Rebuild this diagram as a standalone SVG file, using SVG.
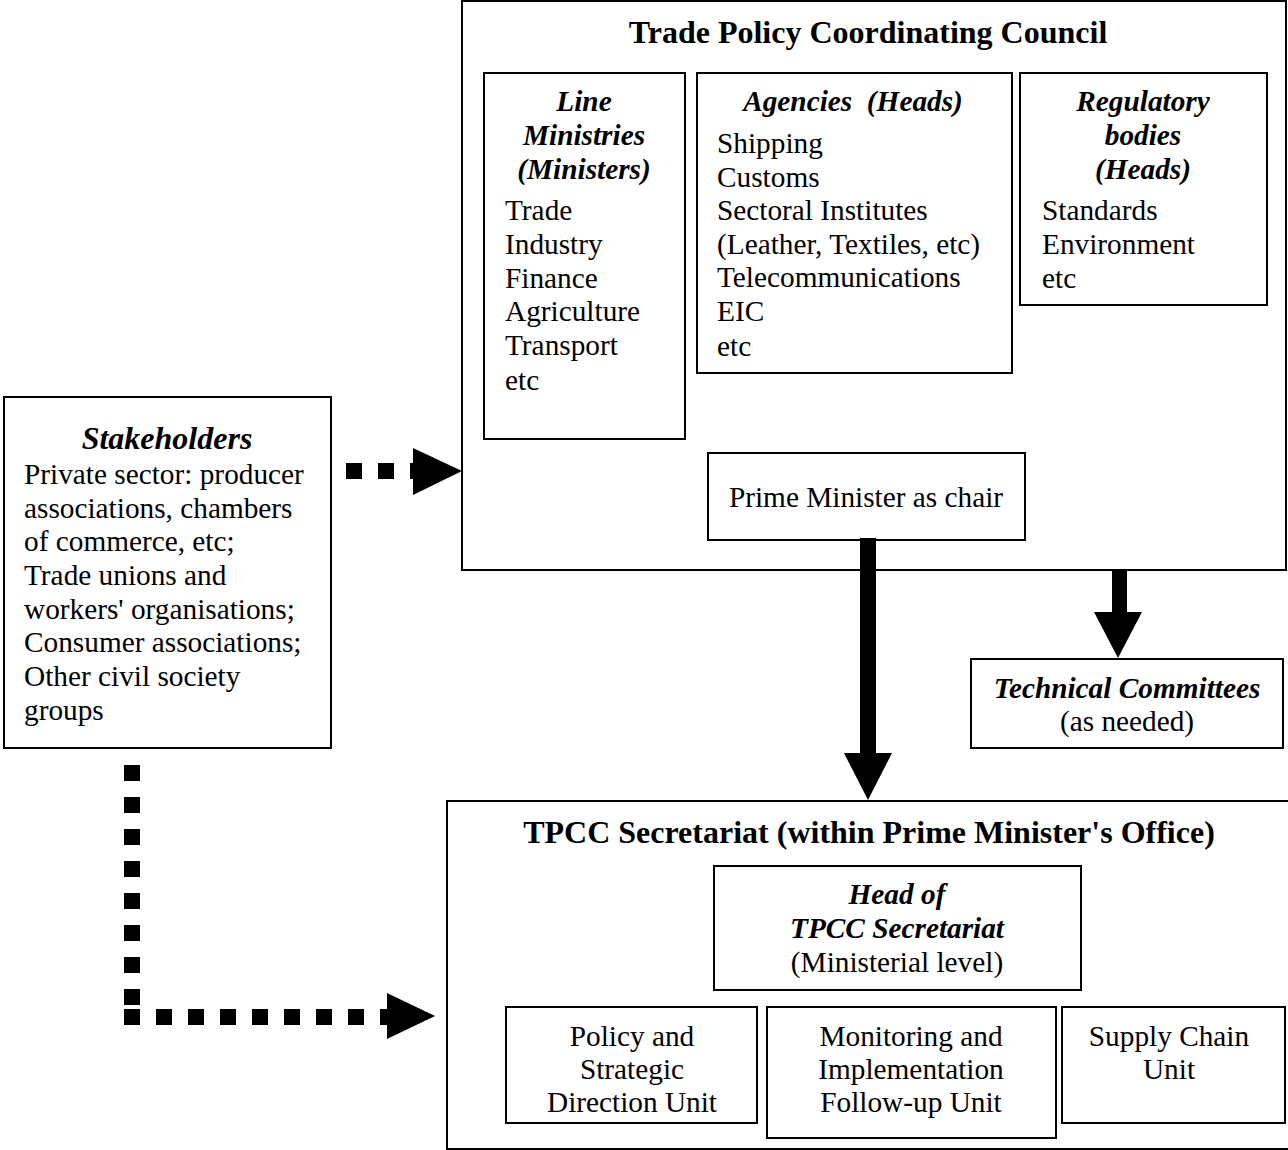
<svg xmlns="http://www.w3.org/2000/svg" width="1288" height="1150" viewBox="0 0 1288 1150">
<style>
text{font-family:"Liberation Serif","Times New Roman",serif;font-size:29.3px;fill:#000}
.t{font-size:32px}
.b{font-weight:bold}
.bi{font-weight:bold;font-style:italic}
.c{text-anchor:middle}
rect.box{fill:#fff;stroke:#000;stroke-width:2}
.dot{fill:none;stroke:#000;stroke-width:16;stroke-dasharray:16 16}
</style>
<rect width="1288" height="1150" fill="#fff"/>
<g id="tpcc">
<rect class="box" x="462" y="1" width="824" height="569"/>
<text class="b c t" x="868" y="43">Trade Policy Coordinating Council</text>
</g>
<g id="line-ministries">
<rect class="box" x="484" y="73" width="201" height="366"/>
<text class="bi c" x="584" y="111">Line</text>
<text class="bi c" x="584" y="145">Ministries</text>
<text class="bi c" x="584" y="179">(Ministers)</text>
<text x="505" y="220">Trade</text>
<text x="505" y="254">Industry</text>
<text x="505" y="288">Finance</text>
<text x="505" y="321">Agriculture</text>
<text x="505" y="355">Transport</text>
<text x="505" y="390">etc</text>
</g>
<g id="agencies">
<rect class="box" x="697" y="73" width="315" height="300"/>
<text class="bi c" x="853" y="111" xml:space="preserve">Agencies  (Heads)</text>
<text x="717" y="153">Shipping</text>
<text x="717" y="187">Customs</text>
<text x="717" y="220">Sectoral Institutes</text>
<text x="717" y="254">(Leather, Textiles, etc)</text>
<text x="717" y="287">Telecommunications</text>
<text x="717" y="321">EIC</text>
<text x="717" y="356">etc</text>
</g>
<g id="regulatory">
<rect class="box" x="1020" y="73" width="247" height="232"/>
<text class="bi c" x="1143" y="111">Regulatory</text>
<text class="bi c" x="1143" y="145">bodies</text>
<text class="bi c" x="1143" y="179">(Heads)</text>
<text x="1042" y="220">Standards</text>
<text x="1042" y="254">Environment</text>
<text x="1042" y="288">etc</text>
</g>
<g id="prime-minister">
<rect class="box" x="708" y="453" width="317" height="87"/>
<text class="c" x="866" y="507">Prime Minister as chair</text>
</g>
<g id="stakeholders">
<rect class="box" x="4" y="397" width="327" height="351"/>
<text class="bi c t" x="167" y="449">Stakeholders</text>
<text x="24" y="484">Private sector: producer</text>
<text x="24" y="518">associations, chambers</text>
<text x="24" y="551">of commerce, etc;</text>
<text x="24" y="585">Trade unions and</text>
<text x="24" y="619">workers' organisations;</text>
<text x="24" y="652">Consumer associations;</text>
<text x="24" y="686">Other civil society</text>
<text x="24" y="720">groups</text>
</g>
<g id="technical-committees">
<rect class="box" x="971" y="659" width="312" height="89"/>
<text class="bi c" x="1127" y="698">Technical Committees</text>
<text class="c" x="1127" y="731">(as needed)</text>
</g>
<g id="secretariat">
<rect class="box" x="447" y="801" width="842" height="348"/>
<text class="b c t" x="869" y="843">TPCC Secretariat (within Prime Minister's Office)</text>
</g>
<g id="head-secretariat">
<rect class="box" x="714" y="866" width="367" height="124"/>
<text class="bi c" x="897" y="904">Head of</text>
<text class="bi c" x="897" y="938">TPCC Secretariat</text>
<text class="c" x="897" y="972">(Ministerial level)</text>
</g>
<g id="policy-unit">
<rect class="box" x="506" y="1007" width="251" height="116"/>
<text class="c" x="632" y="1046">Policy and</text>
<text class="c" x="632" y="1079">Strategic</text>
<text class="c" x="632" y="1112">Direction Unit</text>
</g>
<g id="monitoring-unit">
<rect class="box" x="767" y="1007" width="289" height="131"/>
<text class="c" x="911" y="1046">Monitoring and</text>
<text class="c" x="911" y="1079">Implementation</text>
<text class="c" x="911" y="1112">Follow-up Unit</text>
</g>
<g id="supply-chain-unit">
<rect class="box" x="1062" y="1007" width="223" height="116"/>
<text class="c" x="1169" y="1046">Supply Chain</text>
<text class="c" x="1169" y="1079">Unit</text>
</g>
<g id="connectors">
<path class="dot" d="M346 471 H413"/>
<polygon points="413,448 462,471 413,495"/>
<path class="dot" d="M132 765 V1005"/>
<path class="dot" d="M124 1017 H387"/>
<polygon points="387,993 435,1016 387,1039"/>
<rect x="860" y="538" width="16" height="216"/>
<polygon points="844,753 892,753 868,800"/>
<rect x="1112" y="570" width="15" height="43"/>
<polygon points="1094,612 1142,612 1118,658"/>
</g>
</svg>
